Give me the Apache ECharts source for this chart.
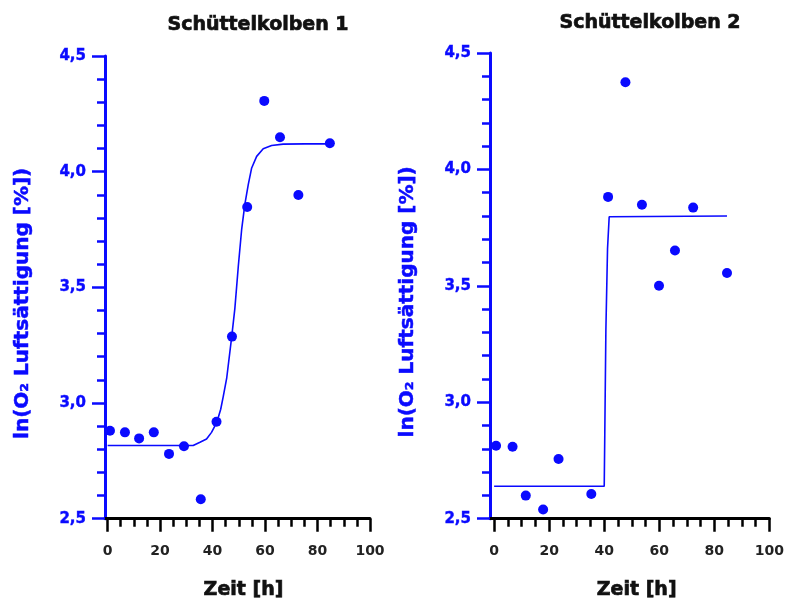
<!DOCTYPE html>
<html>
<head>
<meta charset="utf-8">
<script src="https://cdn.jsdelivr.net/npm/echarts@6/dist/echarts.min.js"></script>
<style>
html,body{margin:0;padding:0;background:#fff;}
#c{width:787px;height:605px;}
</style>
</head>
<body>
<div id="c"></div>
<script>
// ---- data ----
const titles = ['Schüttelkolben 1', 'Schüttelkolben 2'];
const xTitle = 'Zeit [h]';
const yTitle = 'ln(O₂ Luftsättigung [%])';
const xMajorTicks = [0, 20, 40, 60, 80, 100];
const xMinorTicks = [5, 10, 15, 25, 30, 35, 45, 50, 55, 65, 70, 75, 85, 90, 95];
const yMin = 2.5, yMax = 4.5, yStep = 0.5;

// Schüttelkolben 1 measurements
const time1 = [0.9, 6.6, 12.0, 17.6, 23.4, 29.1, 35.5, 41.5, 47.4, 53.2, 59.7, 65.7, 72.7, 84.7];
const val1  = [2.880, 2.873, 2.847, 2.873, 2.780, 2.813, 2.584, 2.919, 3.287, 3.847, 4.306, 4.149, 3.899, 4.123];
// Schüttelkolben 1 fitted curve
const fitX1 = [0, 32.6, 35.2, 37.7, 39.6, 41.6, 43.1, 44.1, 45.4, 47.3, 48.5, 49.8, 51.1, 52.3, 53.6, 54.9, 56.8, 59.3, 62.5, 66.9, 75.2, 84.7];
const fitY1 = [2.816, 2.816, 2.830, 2.844, 2.873, 2.916, 2.973, 3.030, 3.109, 3.287, 3.409, 3.590, 3.752, 3.859, 3.944, 4.016, 4.066, 4.099, 4.113, 4.119, 4.120, 4.120];

// Schüttelkolben 2 measurements
const time2 = [0.7, 6.7, 11.5, 17.8, 23.4, 35.3, 41.4, 47.7, 53.7, 59.9, 65.7, 72.3, 84.6];
const val2  = [2.813, 2.809, 2.599, 2.539, 2.756, 2.606, 3.882, 4.374, 3.848, 3.500, 3.652, 3.836, 3.555];
// Schüttelkolben 2 fitted curve
const fitX2 = [0, 40.0, 40.2, 40.6, 41.2, 41.8, 84.6];
const fitY2 = [2.639, 2.639, 2.860, 3.310, 3.660, 3.797, 3.800];

// ---- chart ----
const BLUE = '#0a0aff';
const FONT = 'DejaVu Sans';
const pairs = (xs, ys) => xs.map((x, i) => [x, ys[i]]);

const grids = [
  {left: 105, top: 56, width: 265, height: 466},
  {left: 490, top: 53, width: 281, height: 466}
];
const xMins = [-1, -1.5];
const titleCenters = [[253, 11], [645, 9]];
const yNamePad = [[0, 32, 0, 0], [0, 32, 0, 0]];
const xNamePad = [[0, 0, 0, 12], [0, 0, 0, 14]];

const xAxes = [], yAxes = [], series = [], titleArr = [];
grids.forEach((g, gi) => {
  titleArr.push({
    text: titles[gi], left: titleCenters[gi][0], top: titleCenters[gi][1], textAlign: 'center',
    textStyle: {fontFamily: FONT, fontWeight: 'bold', fontSize: 19, color: '#111',
      textBorderColor: '#111', textBorderWidth: 0.7}
  });
  xAxes.push({
    type: 'value', gridIndex: gi, position: 'bottom', min: xMins[gi], max: 100,
    name: xTitle, nameLocation: 'middle', nameGap: 62,
    nameTextStyle: {fontFamily: FONT, fontWeight: 'bold', fontSize: 19, color: '#111', padding: xNamePad[gi],
      textBorderColor: '#111', textBorderWidth: 0.7},
    axisLine: {show: true, onZero: false, lineStyle: {color: '#000', width: 3}},
    axisTick: {show: true, inside: false, length: 13, customValues: xMajorTicks, lineStyle: {color: '#000', width: 2.5}},
    axisLabel: {show: true, margin: 26, customValues: xMajorTicks, fontFamily: FONT, fontWeight: 'bold', fontSize: 14, color: '#222'},
    splitLine: {show: false}
  });
  xAxes.push({
    type: 'value', gridIndex: gi, position: 'bottom', offset: 0, min: xMins[gi], max: 100,
    axisLine: {show: false, onZero: false},
    axisTick: {show: true, inside: false, length: 8, customValues: xMinorTicks, lineStyle: {color: '#000', width: 2.5}},
    axisLabel: {show: false, customValues: xMinorTicks},
    splitLine: {show: false}
  });
  yAxes.push({
    type: 'value', gridIndex: gi, min: yMin, max: yMax, interval: yStep,
    name: yTitle, nameLocation: 'middle', nameGap: 72, nameRotate: 90,
    nameTextStyle: {fontFamily: FONT, fontWeight: 'bold', fontSize: 20, color: BLUE, padding: yNamePad[gi],
      textBorderColor: BLUE, textBorderWidth: 0.5},
    axisLine: {show: true, onZero: false, lineStyle: {color: BLUE, width: 3}},
    axisTick: {show: true, inside: false, length: 13, lineStyle: {color: BLUE, width: 2.5}},
    minorTick: {show: true, splitNumber: 5, length: 8, lineStyle: {color: BLUE, width: 2.5}},
    axisLabel: {margin: 19, fontFamily: FONT, fontWeight: 'bold', fontSize: 15, color: BLUE,
      textBorderColor: BLUE, textBorderWidth: 0.4,
      formatter: v => v.toFixed(1).replace('.', ',')},
    splitLine: {show: false}
  });
});

const data = [[time1, val1, fitX1, fitY1], [time2, val2, fitX2, fitY2]];
data.forEach((d, gi) => {
  series.push({
    type: 'line', xAxisIndex: gi * 2, yAxisIndex: gi, data: pairs(d[2], d[3]),
    showSymbol: false, symbol: 'none', smooth: false,
    lineStyle: {color: BLUE, width: 1.6}, silent: true, z: 2
  });
  series.push({
    type: 'scatter', xAxisIndex: gi * 2, yAxisIndex: gi, data: pairs(d[0], d[1]),
    symbol: 'circle', symbolSize: 10, itemStyle: {color: BLUE, opacity: 1}, z: 3, clip: false
  });
});

const chart = echarts.init(document.getElementById('c'), null, {renderer: 'canvas'});
chart.setOption({
  animation: false,
  backgroundColor: '#ffffff',
  title: titleArr,
  grid: grids,
  xAxis: xAxes,
  yAxis: yAxes,
  series: series
});
</script>
</body>
</html>
